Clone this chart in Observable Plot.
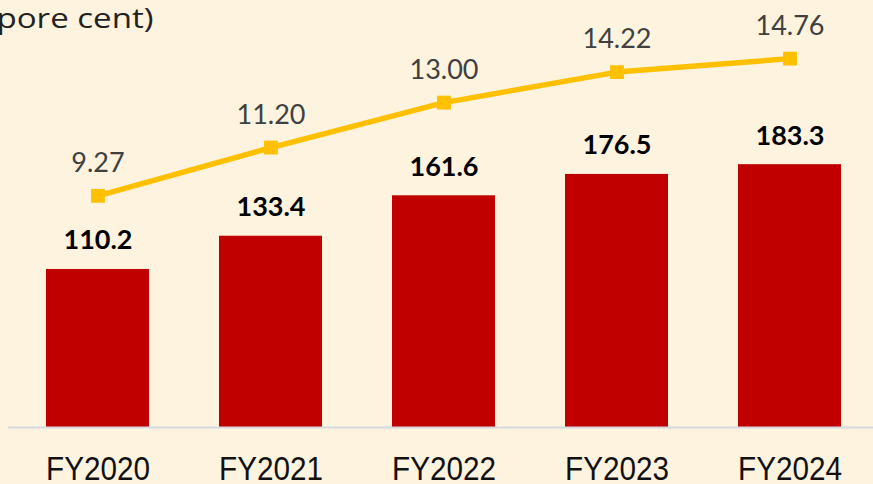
<!DOCTYPE html>
<html><head><meta charset="utf-8">
<script src="https://cdn.jsdelivr.net/npm/d3@7"></script>
<script src="https://cdn.jsdelivr.net/npm/@observablehq/plot@0.6"></script>
<style>
html,body{margin:0;padding:0;background:#FEF3DF;}
#chart{width:873px;height:484px;overflow:hidden;}
</style></head><body><div id="chart"></div>
<script>
const years = ["FY2020","FY2021","FY2022","FY2023","FY2024"];
const values = [110.2, 133.4, 161.6, 176.5, 183.3];
const rates = [9.27, 11.20, 13.00, 14.22, 14.76];
const rateLabels = ["9.27","11.20","13.00","14.22","14.76"];
const titleText = ["pore cent)"];
const K = 17.43; // secondary-axis ratio (per cent -> bar units)
const data = years.map((y, i) => ({year: y, value: values[i], rate: rates[i], rateLabel: rateLabels[i]}));

const chart = Plot.plot({
  width: 873, height: 484,
  marginTop: 0, marginBottom: 57, marginLeft: 8, marginRight: 0,
  style: {background: "#FEF3DF", overflow: "visible"},
  x: {type: "band", domain: years, range: [44, 842], paddingInner: 0.407, paddingOuter: 0, label: null},
  y: {domain: [0, 297.8], axis: null},
  marks: [
    Plot.barY(data, {x: "year", y: "value", fill: "#C00000"}),
    Plot.ruleY([0], {stroke: "#D5D9E0", strokeWidth: 2}),
    Plot.lineY(data, {x: "year", y: d => d.rate * K, stroke: "#FFC000", strokeWidth: 5.5}),
    Plot.dot(data, {x: "year", y: d => d.rate * K, symbol: "square", r: 7.8, fill: "#FFC000", stroke: "none"}),
    Plot.text(data, {x: "year", y: "value", text: d => d.value.toFixed(1), dy: -20, lineAnchor: "bottom",
      fontSize: 27, fontWeight: "bold", fill: "#000", fontFamily: "Lato"}),
    Plot.text(data, {x: "year", y: d => d.rate * K, text: "rateLabel", dy: -24, lineAnchor: "bottom",
      fontSize: 27, fill: "#404040", fontFamily: "Lato"}),
    Plot.text(titleText, {frameAnchor: "top-left", text: d => d, dx: -12, dy: 8, lineAnchor: "top", textAnchor: "start",
      fontSize: 28, fill: "#222", fontFamily: "Open Sans"}),
    Plot.axisX({tickSize: 0, tickPadding: 29, fontSize: 33, fontFamily: "Liberation Sans", fill: "#111", label: null})
  ]
});
d3.select(chart).selectAll('g[aria-label="x-axis tick label"] text')
  .attr("textLength", 104).attr("lengthAdjust", "spacingAndGlyphs");
d3.select(chart).selectAll('g[aria-label="text"]').filter((d, i, n) => i === 2).selectAll("text")
  .attr("textLength", 157).attr("lengthAdjust", "spacingAndGlyphs");
document.getElementById("chart").append(chart);
</script></body></html>
